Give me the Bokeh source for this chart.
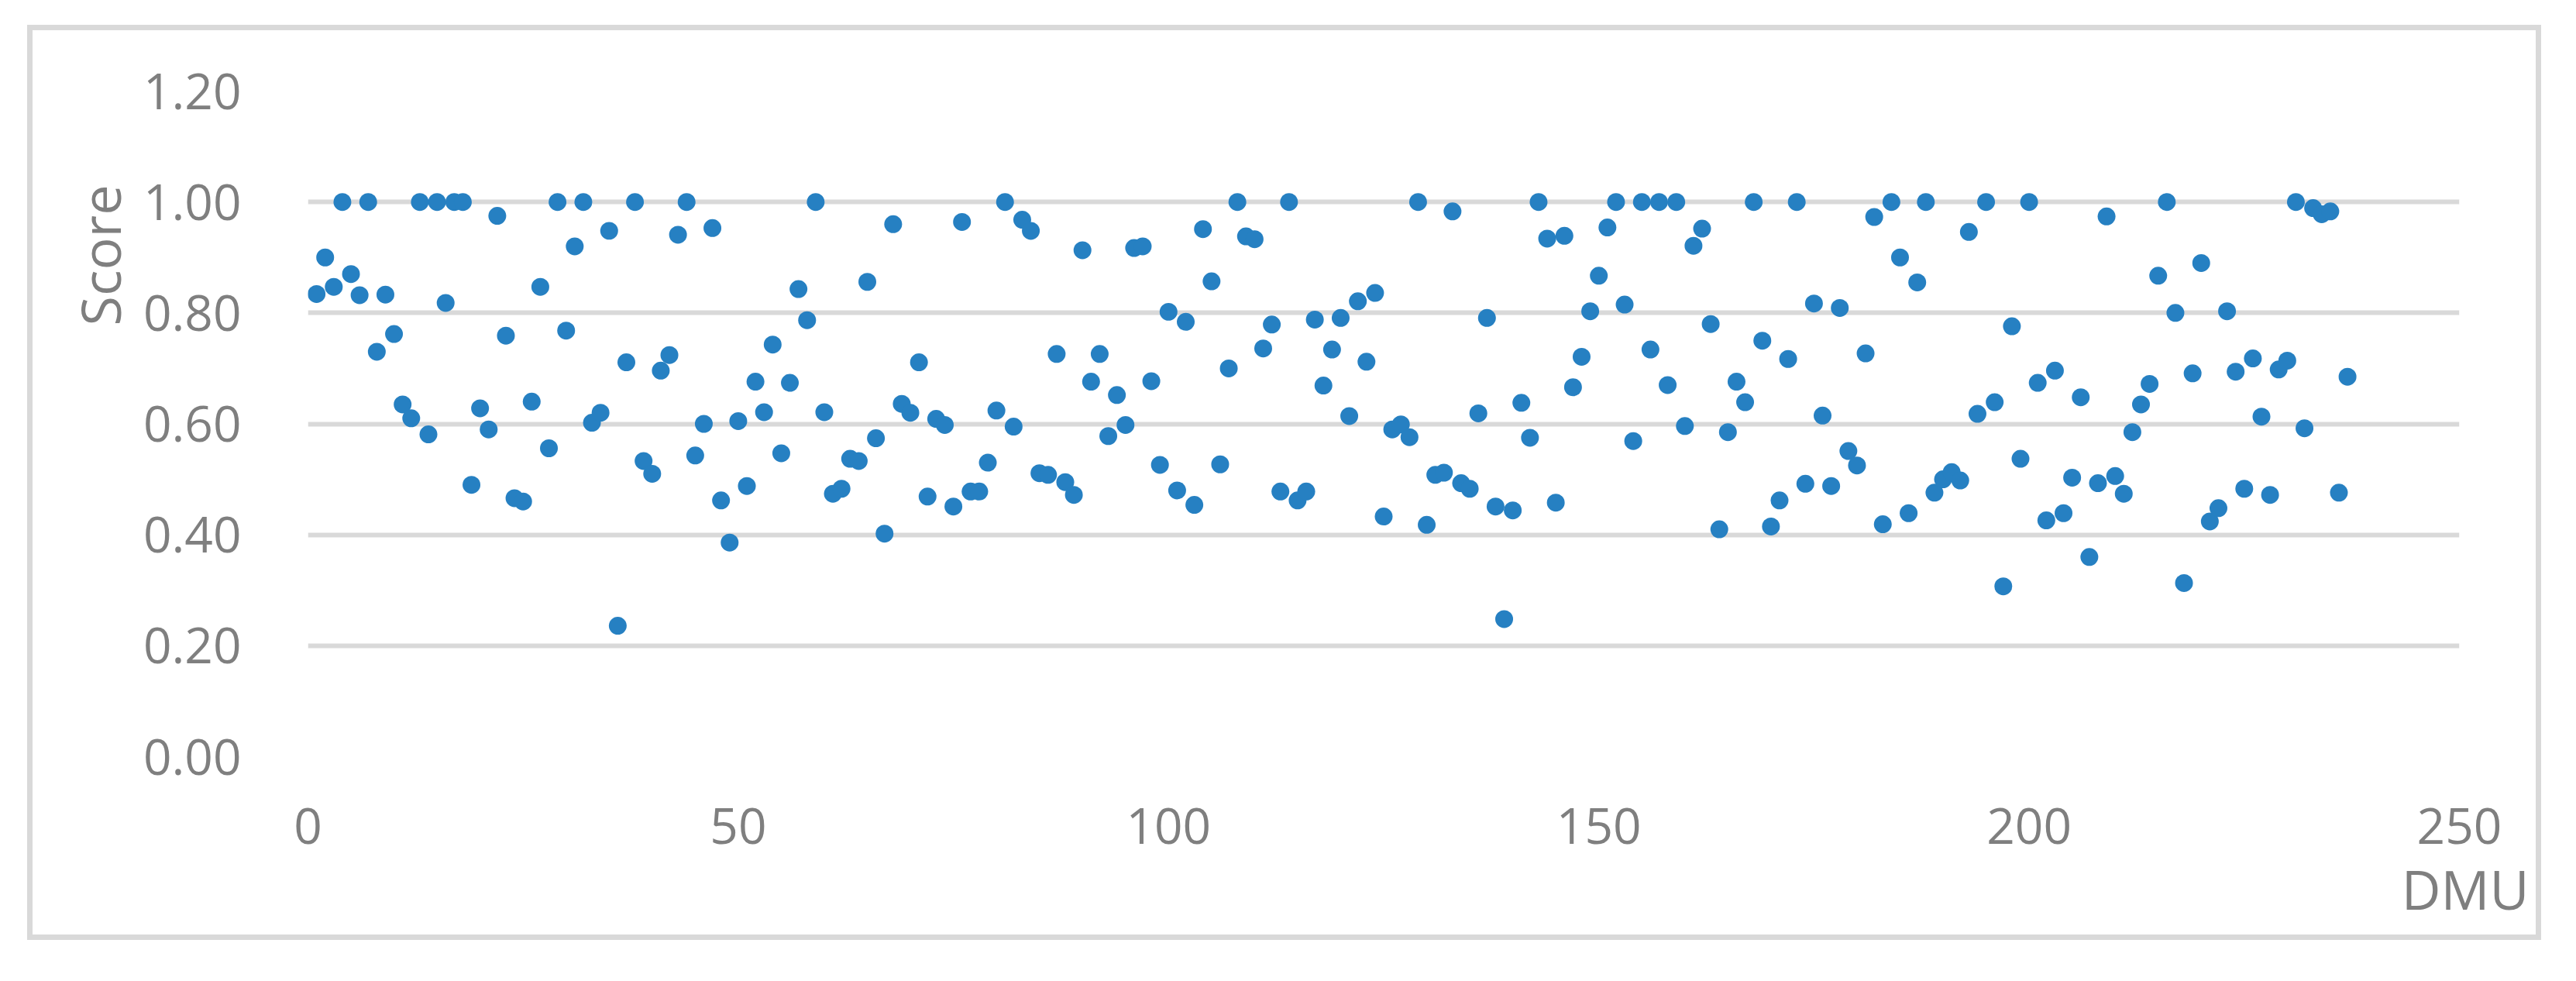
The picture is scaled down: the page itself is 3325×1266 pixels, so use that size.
from bokeh.plotting import figure
from bokeh.models import ColumnDataSource, Range1d, Title, NumeralTickFormatter, FixedTicker
from bokeh.embed import file_html
from bokeh.resources import INLINE

dmu = list(range(1, 238))
score = [
    0.834, 0.900, 0.847, 1.000, 0.870, 0.832, 1.000, 0.730, 0.833, 0.762,
    0.635, 0.610, 1.000, 0.581, 1.000, 0.818, 1.000, 1.000, 0.490, 0.628,
    0.590, 0.975, 0.759, 0.466, 0.460, 0.640, 0.847, 0.556, 1.000, 0.768,
    0.920, 1.000, 0.602, 0.620, 0.948, 0.236, 0.711, 1.000, 0.533, 0.510,
    0.696, 0.724, 0.941, 1.000, 0.543, 0.600, 0.953, 0.462, 0.386, 0.605,
    0.488, 0.676, 0.621, 0.743, 0.547, 0.674, 0.843, 0.787, 1.000, 0.621,
    0.474, 0.483, 0.537, 0.533, 0.856, 0.574, 0.402, 0.960, 0.636, 0.620,
    0.711, 0.469, 0.609, 0.598, 0.451, 0.964, 0.478, 0.478, 0.530, 0.624,
    1.000, 0.595, 0.968, 0.948, 0.511, 0.508, 0.726, 0.495, 0.472, 0.913,
    0.676, 0.726, 0.578, 0.652, 0.598, 0.917, 0.920, 0.677, 0.526, 0.802,
    0.480, 0.784, 0.454, 0.951, 0.857, 0.527, 0.700, 1.000, 0.938, 0.933,
    0.736, 0.779, 0.478, 1.000, 0.462, 0.478, 0.788, 0.669, 0.734, 0.791,
    0.614, 0.821, 0.712, 0.836, 0.433, 0.590, 0.599, 0.576, 1.000, 0.418,
    0.508, 0.512, 0.983, 0.493, 0.483, 0.619, 0.791, 0.451, 0.248, 0.444,
    0.638, 0.575, 1.000, 0.934, 0.458, 0.939, 0.666, 0.721, 0.803, 0.867,
    0.954, 1.000, 0.815, 0.569, 1.000, 0.734, 1.000, 0.670, 1.000, 0.596,
    0.921, 0.952, 0.780, 0.410, 0.585, 0.676, 0.639, 1.000, 0.750, 0.415,
    0.462, 0.717, 1.000, 0.492, 0.817, 0.615, 0.488, 0.809, 0.551, 0.525,
    0.727, 0.973, 0.419, 1.000, 0.900, 0.439, 0.855, 1.000, 0.476, 0.500,
    0.513, 0.498, 0.946, 0.618, 1.000, 0.639, 0.307, 0.776, 0.537, 1.000,
    0.674, 0.426, 0.696, 0.439, 0.503, 0.648, 0.360, 0.493, 0.974, 0.506,
    0.474, 0.585, 0.635, 0.672, 0.867, 1.000, 0.800, 0.313, 0.691, 0.890,
    0.424, 0.448, 0.803, 0.694, 0.483, 0.718, 0.613, 0.472, 0.698, 0.714,
    1.000, 0.592, 0.989, 0.978, 0.983, 0.476, 0.685,
]
x_ticks = [0, 50, 100, 150, 200, 250]
y_ticks = [0.0, 0.2, 0.4, 0.6, 0.8, 1.0, 1.2]
x_title = "DMU"
y_title = "Score"

FONT = "Open Sans"
TXT = "#7f7f7f"
GRID = "#d9d9d9"
DOT = "#2680c2"

src = ColumnDataSource(data=dict(dmu=dmu, score=score))

p = figure(width=3245, height=1181, output_backend="svg", toolbar_location=None,
           x_range=Range1d(x_ticks[0], x_ticks[-1]), y_range=Range1d(y_ticks[0], y_ticks[-1]),
           min_border_left=355, min_border_right=113, min_border_top=78, min_border_bottom=244)
p.margin = (32, 0, 0, 35)
p.styles = {"border": "7px solid #d9d9d9"}
p.outline_line_color = None
p.background_fill_color = "white"
p.border_fill_color = "white"

p.scatter("dmu", "score", source=src, size=23, fill_color=DOT, line_color=None)

p.xgrid.visible = False
p.ygrid.grid_line_color = GRID
p.ygrid.grid_line_width = 6

p.xaxis.ticker = FixedTicker(ticks=x_ticks)
p.yaxis.ticker = FixedTicker(ticks=y_ticks)
p.yaxis.formatter = NumeralTickFormatter(format="0.00")
for ax in (p.xaxis, p.yaxis):
    ax.axis_line_color = None
    ax.major_tick_line_color = None
    ax.minor_tick_line_color = None
    ax.major_label_text_font = FONT
    ax.major_label_text_font_size = "64px"
    ax.major_label_text_color = TXT
p.xaxis.major_label_standoff = 60
p.yaxis.major_label_standoff = 80

ty = Title(text=y_title, align="right", offset=121, text_font=FONT, text_font_size="70px",
           text_color=TXT, text_font_style="normal")
p.add_layout(ty, "left")
tx = Title(text=x_title, align="right", offset=-90, text_font=FONT, text_font_size="70px",
           text_color=TXT, text_font_style="normal")
p.add_layout(tx, "below")

open("out.html", "w").write(file_html(p, INLINE))
